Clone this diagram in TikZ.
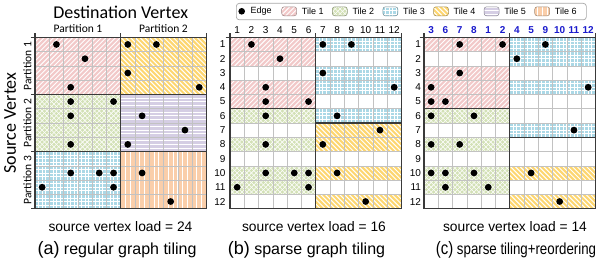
\documentclass[tikz,border=0pt]{standalone}
\usepackage{fontspec}
\setmainfont{Liberation Sans}
\newfontfamily\calfont{Carlito}
\usetikzlibrary{positioning}
\definecolor{tilepink}{HTML}{F2C9C9}
\definecolor{tilegreen}{HTML}{D3E1B6}
\definecolor{tileblue}{HTML}{ABD8E6}
\definecolor{tileyellow}{HTML}{FDD670}
\definecolor{tilepurple}{HTML}{D5CEE4}
\definecolor{tileorange}{HTML}{FACEAA}
\definecolor{cellline}{HTML}{C2C2C2}
\definecolor{tileline}{HTML}{3A3A3A}
\definecolor{ordblue}{HTML}{1A1ACC}
\definecolor{legendline}{HTML}{A8A8A8}
\tikzset{
  hatchline/.style={draw=white,line width=#1},
  tileclip/.style={},
  cellgrid/.style={draw=cellline,line width=0.5pt},
  tileborder/.style={draw=tileline,line width=1.3pt},
  axisline/.style={draw=tileline,line width=1.1pt},
  legendbox/.style={draw=legendline,fill=white,rounded corners=3pt,line width=0.7pt,inner sep=0pt},
  legendtext/.style={inner sep=0pt,font=\fontsize{9}{10}\selectfont},
  titletext/.style={font=\calfont\fontsize{18}{20}\selectfont},
  parttext/.style={font=\calfont\fontsize{11.5}{13}\selectfont},
  numtext/.style={inner sep=0pt,font=\fontsize{10}{11}\selectfont},
  ordtext/.style={inner sep=0pt,text=ordblue,font=\bfseries\fontsize{10}{11}\selectfont},
  loadtext/.style={anchor=base,inner sep=0pt,font=\fontsize{13.8}{15}\selectfont},
  captext/.style={anchor=base,inner sep=0pt,font=\fontsize{16}{18}\selectfont}
}
% white hatching: #1 lines per cell, #2 width, rectangle #3,#4 -- #5,#6
\newcommand\slashlines[6]{%
  \pgfmathtruncatemacro\hatchfrom{floor((#1)*((#3)-((#6)-(#4))))-1}%
  \pgfmathtruncatemacro\hatchto{ceil((#1)*(#5))+1}%
  \draw[hatchline=#2] \foreach \hh in {\hatchfrom,...,\hatchto}
    {({\hh/#1},{#6}) -- ({\hh/#1+(#6)-(#4)},{#4})};}
\newcommand\backlines[6]{%
  \pgfmathtruncatemacro\hatchfrom{floor((#1)*((#3)-((#6)-(#4))))-1}%
  \pgfmathtruncatemacro\hatchto{ceil((#1)*(#5))+1}%
  \draw[hatchline=#2] \foreach \hh in {\hatchfrom,...,\hatchto}
    {({\hh/#1},{#4}) -- ({\hh/#1+(#6)-(#4)},{#6})};}
\newcommand\vertlines[6]{%
  \pgfmathtruncatemacro\hatchfrom{floor((#1)*(#3))}%
  \pgfmathtruncatemacro\hatchto{ceil((#1)*(#5))}%
  \draw[hatchline=#2] \foreach \hh in {\hatchfrom,...,\hatchto}
    {({\hh/#1},{#4}) -- ({\hh/#1},{#6})};}
\newcommand\horilines[6]{%
  \pgfmathtruncatemacro\hatchfrom{floor((#1)*(#4))}%
  \pgfmathtruncatemacro\hatchto{ceil((#1)*(#6))}%
  \draw[hatchline=#2] \foreach \hh in {\hatchfrom,...,\hatchto}
    {({#3},{\hh/#1}) -- ({#5},{\hh/#1})};}
\newcommand\tileone[4]{\begin{scope}\clip[tileclip] ({#1},{#2}) rectangle ({#3},{#4});
  \fill[tilepink] ({#1},{#2}) rectangle ({#3},{#4});
  \slashlines{3}{0.9pt}{#1}{#2}{#3}{#4}\end{scope}}
\newcommand\tiletwo[4]{\begin{scope}\clip[tileclip] ({#1},{#2}) rectangle ({#3},{#4});
  \fill[tilegreen] ({#1},{#2}) rectangle ({#3},{#4});
  \slashlines{3}{0.55pt}{#1}{#2}{#3}{#4}\backlines{3}{0.55pt}{#1}{#2}{#3}{#4}\end{scope}}
\newcommand\tilethree[4]{\begin{scope}\clip[tileclip] ({#1},{#2}) rectangle ({#3},{#4});
  \fill[tileblue] ({#1},{#2}) rectangle ({#3},{#4});
  \vertlines{4}{0.7pt}{#1}{#2}{#3}{#4}\horilines{4}{0.7pt}{#1}{#2}{#3}{#4}\end{scope}}
\newcommand\tilefour[4]{\begin{scope}\clip[tileclip] ({#1},{#2}) rectangle ({#3},{#4});
  \fill[tileyellow] ({#1},{#2}) rectangle ({#3},{#4});
  \backlines{3}{1pt}{#1}{#2}{#3}{#4}\end{scope}}
\newcommand\tilefive[4]{\begin{scope}\clip[tileclip] ({#1},{#2}) rectangle ({#3},{#4});
  \fill[tilepurple] ({#1},{#2}) rectangle ({#3},{#4});
  \horilines{4}{0.8pt}{#1}{#2}{#3}{#4}\end{scope}}
\newcommand\tilesix[4]{\begin{scope}\clip[tileclip] ({#1},{#2}) rectangle ({#3},{#4});
  \fill[tileorange] ({#1},{#2}) rectangle ({#3},{#4});
  \vertlines{3}{0.9pt}{#1}{#2}{#3}{#4}\end{scope}}

\begin{document}
\begin{tikzpicture}[x=1pt,y=-1pt]
  \path[use as bounding box] (0,0) rectangle (598,262);

  \node[legendbox,minimum width=350pt,minimum height=16.5pt,anchor=north west] (legend) at (236,3) {};
  \fill (241.7,11.3) circle (3.3pt);
  \node[legendtext,anchor=west] (edgelbl) at (250.5,11.3) {Edge};
  \begin{scope}[x=14.28pt,y=-14.28pt,tileclip/.style={rounded corners=2.5pt}]
    \foreach \k/\mk/\col in {1/\tileone/tilepink,2/\tiletwo/tilegreen,3/\tilethree/tileblue,
                             4/\tilefour/tileyellow,5/\tilefive/tilepurple,6/\tilesix/tileorange} {
      \mk{(281.7+(\k-1)*50.6)/14.28}{0.476}{(296.7+(\k-1)*50.6)/14.28}{1.106}
      \draw[\col!65!black,line width=0.5pt,rounded corners=2.5pt]
        ({(281.7+(\k-1)*50.6)/14.28},0.476) rectangle ({(296.7+(\k-1)*50.6)/14.28},1.106);
    }
  \end{scope}
  \foreach \k in {1,...,6}
    \node[legendtext,anchor=west] (tile\k) at ({301.7+(\k-1)*50.6},11.3) {Tile \k};

  % (a) regular graph tiling
  \node[titletext] (dstvtx) at (120.7,12) {Destination Vertex};
  \node[rotate=90,titletext] (srcvtx) at (10,123) {Source Vertex};
  \node[parttext] (apcol1) at (78,29) {Partition 1};
  \node[parttext] (apcol2) at (163.5,29) {Partition 2};
  \foreach \p/\y in {1/66,2/123,3/180}
    \node[rotate=90,parttext] (aprow\p) at (27.5,\y) {Partition \p};
  \begin{scope}[xshift=35pt,yshift=-37.3pt,x=14.28pt,y=-14.28pt]
    \tileone{0}{0}{6}{4}
    \tilefour{6}{0}{12}{4}
    \tiletwo{0}{4}{6}{8}
    \tilefive{6}{4}{12}{8}
    \tilethree{0}{8}{6}{12}
    \tilesix{6}{8}{12}{12}
    \draw[cellgrid] \foreach \i in {1,...,11} {(\i,0) -- (\i,12) (0,\i) -- (12,\i)};
    \draw[tileborder] (6,0) -- (6,12) (0,4) -- (12,4) (0,8) -- (12,8);
    \draw[tileborder] (12,0) -- (12,12) -- (0,12);
    \draw[axisline] (-0.3,0) -- (12,0) (0,-0.3) -- (0,12);
    \foreach \t in {6,12} \draw[axisline] (\t,0) -- (\t,-0.3);
    \foreach \t in {4,8,12} \draw[axisline] (0,\t) -- (-0.3,\t);
    \foreach \c/\r in {2/1,7/1,9/1,4/2,7/3,3/4,12/4,3/5,6/5,3/6,8/6,11/7,3/8,7/8,
                       3/10,5/10,6/10,8/10,1/11,6/11,10/12}
      \fill (\c-0.5,\r-0.5) circle (3.4pt);
  \end{scope}
  \node[loadtext] (aload) at (120.5,231) {source vertex load = 24};
  \node[captext] (acap) at (117,254) {{\fontsize{18}{18}\selectfont(a)} regular graph tiling};

  % (b) sparse graph tiling
  \begin{scope}[xshift=230pt,yshift=-37.3pt,x=14.28pt,y=-14.28pt]
    \foreach \r in {1,2,4,5} \tileone{0}{\r-1}{6}{\r}
    \foreach \r in {6,8,10,11} \tiletwo{0}{\r-1}{6}{\r}
    \foreach \r in {1,3,4,6} \tilethree{6}{\r-1}{12}{\r}
    \foreach \r in {7,8,10,12} \tilefour{6}{\r-1}{12}{\r}
    \draw[cellgrid] \foreach \i in {1,...,11} {(\i,0) -- (\i,12) (0,\i) -- (12,\i)};
    \draw[tileborder] (6,0) -- (6,12) (0,5) -- (6,5) (6,6) -- (12,6);
    \draw[tileborder] (12,0) -- (12,12) -- (0,12);
    \draw[axisline] (-0.3,0) -- (12,0) (0,-0.3) -- (0,12);
    \foreach \t in {6,12} \draw[axisline] (\t,0) -- (\t,-0.3);
    \foreach \c/\r in {2/1,7/1,9/1,4/2,7/3,3/4,12/4,3/5,6/5,3/6,8/6,11/7,3/8,7/8,
                       3/10,5/10,6/10,8/10,1/11,6/11,10/12}
      \fill (\c-0.5,\r-0.5) circle (3.4pt);
    \foreach \c in {1,...,12} \node[numtext] (bcol\c) at (\c-0.5,-0.52) {\c};
    \foreach \r in {1,...,12} \node[numtext,anchor=east] (brow\r) at (-0.3,\r-0.5) {\r};
  \end{scope}
  \node[loadtext] (bload) at (314,231) {source vertex load = 16};
  \node[captext] (bcap) at (306.5,254) {{\fontsize{18}{18}\selectfont(b)} sparse graph tiling};

  % (c) sparse tiling+reordering
  \begin{scope}[xshift=424pt,yshift=-37.3pt,x=14.28pt,y=-14.28pt]
    \foreach \r in {1,3,4,5} \tileone{0}{\r-1}{6}{\r}
    \foreach \r in {6,8,10,11} \tiletwo{0}{\r-1}{6}{\r}
    \foreach \r in {1,2,4,7} \tilethree{6}{\r-1}{12}{\r}
    \foreach \r in {10,12} \tilefour{6}{\r-1}{12}{\r}
    \draw[cellgrid] \foreach \i in {1,...,11} {(\i,0) -- (\i,12) (0,\i) -- (12,\i)};
    \draw[tileborder] (6,0) -- (6,12) (0,5) -- (6,5) (6,7) -- (12,7);
    \draw[tileborder] (12,0) -- (12,12) -- (0,12);
    \draw[axisline] (-0.3,0) -- (12,0) (0,-0.3) -- (0,12);
    \foreach \t in {6,12} \draw[axisline] (\t,0) -- (\t,-0.3);
    \foreach \c/\r in {3/1,6/1,9/1,7/2,3/3,1/4,12/4,1/5,2/5,1/6,4/6,11/7,1/8,3/8,
                       1/10,2/10,4/10,8/10,2/11,5/11,10/12}
      \fill (\c-0.5,\r-0.5) circle (3.4pt);
    \foreach \v [count=\c] in {3,6,7,8,1,2,4,5,9,10,11,12}
      \node[ordtext] (ccol\c) at (\c-0.5,-0.52) {\v};
    \foreach \r in {1,...,12} \node[numtext,anchor=east] (crow\r) at (-0.2,\r-0.5) {\r};
  \end{scope}
  \node[loadtext] (cload) at (515,231) {source vertex load = 14};
  \node[captext,xscale=0.83] (ccap) at (516,254) {{\fontsize{18}{18}\selectfont(c)} sparse tiling+reordering};
\end{tikzpicture}
\end{document}
